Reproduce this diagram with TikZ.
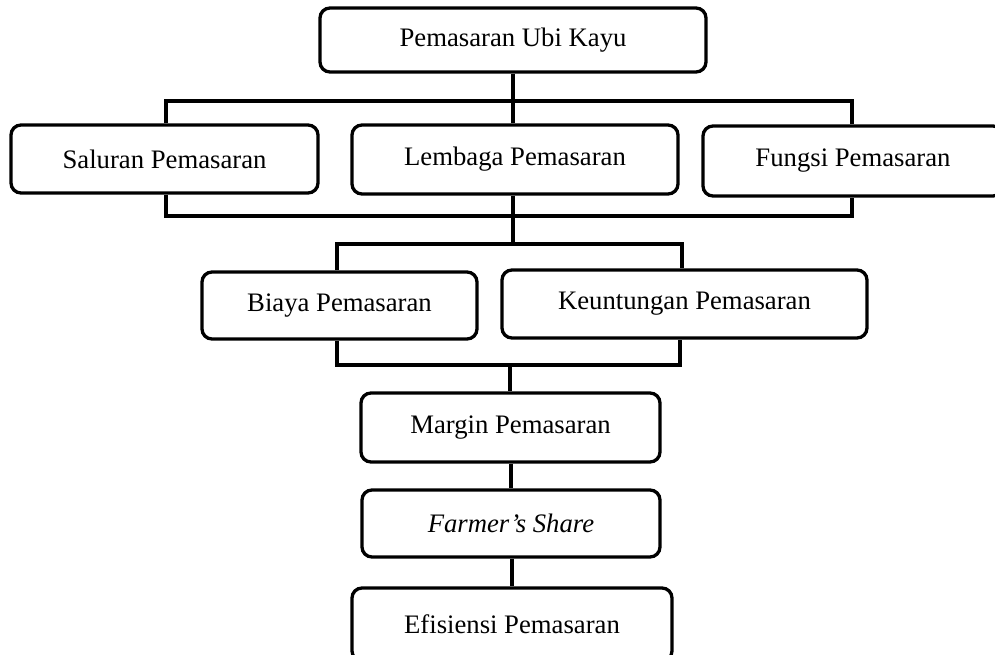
\documentclass[tikz,border=0pt]{standalone}
\usepackage{fontspec}
\setmainfont{Liberation Serif}
\begin{document}
\begin{tikzpicture}[x=1pt,y=-1pt,
  box/.style={draw, line width=3.3pt, rounded corners=10pt, inner sep=0pt,
    align=center, font=\fontsize{26.7}{32}\selectfont},
  conn/.style={line width=3.3pt, line cap=butt, line join=miter}]
\useasboundingbox (0,0) rectangle (995,655);
\node[box, minimum width=386pt, minimum height=64pt] (top) at (513,40) {Pemasaran Ubi Kayu};
\node[box, minimum width=307pt, minimum height=68pt] (sal) at (164.5,159) {Saluran Pemasaran};
\node[box, minimum width=326pt, minimum height=69pt] (lem) at (515,159.5) {Lembaga Pemasaran};
\node[box, minimum width=300pt, minimum height=70pt] (fun) at (853,161) {Fungsi Pemasaran};
\node[box, minimum width=275pt, minimum height=67pt] (bia) at (339.5,305.5) {Biaya Pemasaran};
\node[box, minimum width=365pt, minimum height=68pt] (keu) at (684.5,304) {Keuntungan Pemasaran};
\node[box, minimum width=299pt, minimum height=69pt] (mar) at (510.5,427.5) {Margin Pemasaran};
\node[box, minimum width=298pt, minimum height=67pt] (far) at (511,523.5) {\itshape Farmer’s Share};
\node[box, minimum width=320pt, minimum height=73pt] (efi) at (512,624.5) {Efisiensi Pemasaran};
% bracket corners
\coordinate (t1l) at (166,101);
\coordinate (t1r) at (852,101);
\coordinate (b1l) at (166,216);
\coordinate (b1r) at (852,216);
\coordinate (t2m) at (513,244);
\coordinate (t2l) at (337,244);
\coordinate (t2r) at (682,244);
\coordinate (b2l) at (337,365);
\coordinate (b2r) at (680,365);
\coordinate (b2m) at (510,365);
% connectors
\draw[conn] (top.south -| t2m) -- (lem.north -| t2m);
\draw[conn] (sal.north -| t1l) -- (t1l) -- (t1r) -- (fun.north -| t1r);
\draw[conn] (sal.south -| b1l) -- (b1l) -- (b1r) -- (fun.south -| b1r);
\draw[conn] (lem.south -| t2m) -- (t2m);
\draw[conn] (bia.north -| t2l) -- (t2l) -- (t2r) -- (keu.north -| t2r);
\draw[conn] (bia.south -| b2l) -- (b2l) -- (b2r) -- (keu.south -| b2r);
\draw[conn] (b2m) -- (mar.north -| b2m);
\draw[conn] (mar.south -| far.north) -- (far.north);
\draw[conn] (far.south -| efi.north) -- (efi.north);
\end{tikzpicture}
\end{document}
